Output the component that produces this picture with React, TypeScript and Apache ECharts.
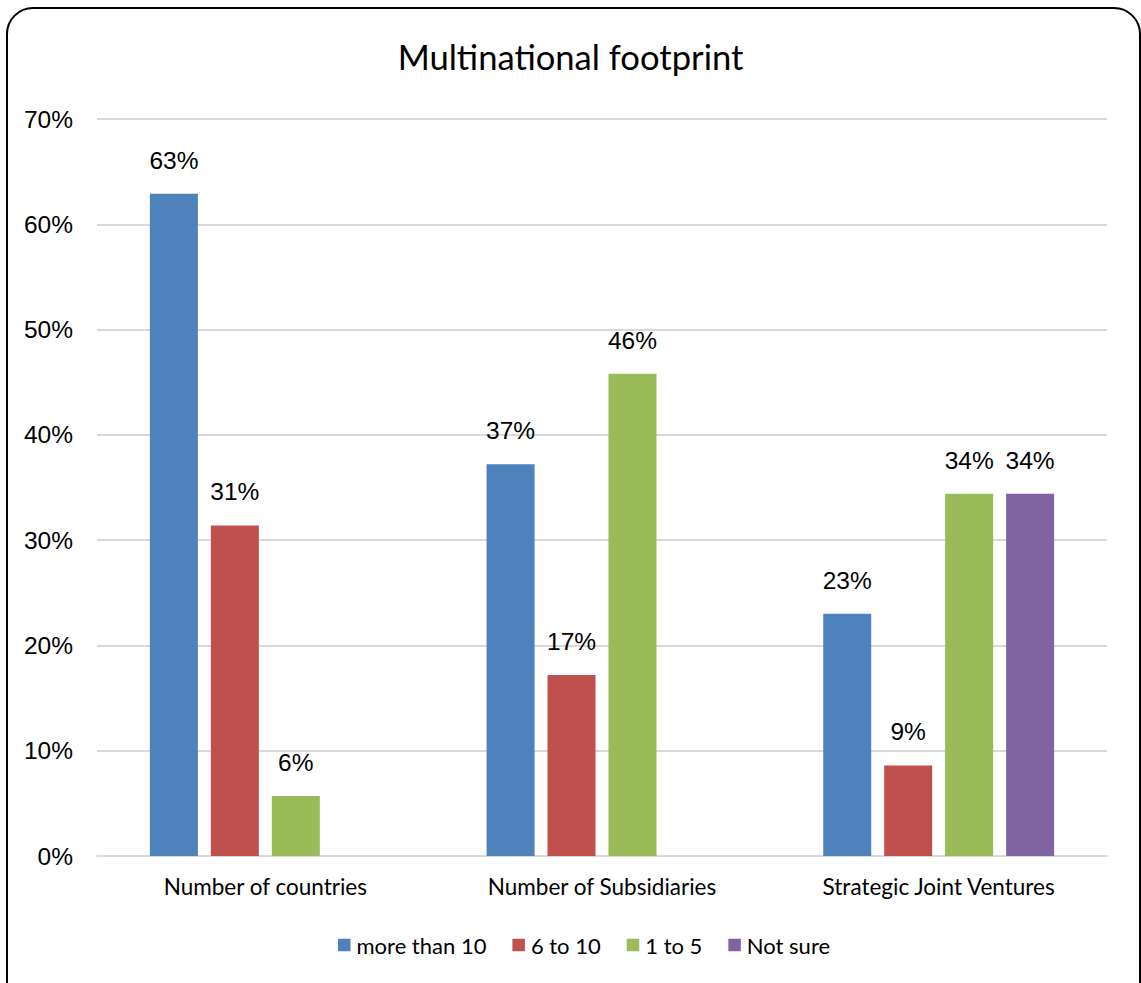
import React, { useEffect, useRef } from "react";
import * as echarts from "echarts";

const categories = ["Number of countries", "Number of Subsidiaries", "Strategic Joint Ventures"];
const seriesNames = ["more than 10", "6 to 10", "1 to 5", "Not sure"];
const moreThan10 = [62.9, 37.2, 23.0];
const sixTo10 = [31.4, 17.2, 8.6];
const oneTo5 = [5.7, 45.8, 34.4];
const notSure = [null, null, 34.4];
const colors = ["#4F81BD", "#C0504D", "#9BBB59", "#8064A2"];
const yTicks = { min: 0, max: 70, interval: 10 };

export default function App() {
  const ref = useRef<HTMLDivElement>(null);
  useEffect(() => {
    document.body.style.margin = "0";
    const chart = echarts.init(ref.current!, null, { renderer: "svg" });
    const data = [moreThan10, sixTo10, oneTo5, notSure];
    chart.setOption({
      animation: false,
      backgroundColor: "#fff",
      title: {
        text: "Multinational footprint",
        left: "center",
        top: 34,
        textStyle: { fontFamily: "Lato", fontSize: 34.6, fontWeight: "normal", color: "#000" },
      },
      graphic: [
        {
          type: "rect",
          shape: { x: 7, y: 8, width: 1133, height: 1020, r: 26 },
          style: { fill: "none", stroke: "#000", lineWidth: 2 },
          z: 100,
        },
      ],
      legend: {
        top: 929,
        left: 333,
        itemWidth: 12.5,
        itemHeight: 12.5,
        itemGap: 26,
        icon: "rect",
        textStyle: { fontFamily: "Lato", fontSize: 22, color: "#000", padding: [0, 0, 0, 1] },
        data: seriesNames,
      },
      grid: { left: 97, right: 34, top: 119, bottom: 127, containLabel: false },
      xAxis: {
        type: "category",
        data: categories,
        axisLine: { lineStyle: { color: "#d9d9d9", width: 2 } },
        axisTick: { show: false },
        axisLabel: { fontFamily: "Lato", fontSize: 22.5, color: "#000", margin: 19 },
      },
      yAxis: {
        type: "value",
        min: yTicks.min,
        max: yTicks.max,
        interval: yTicks.interval,
        axisLine: { show: false },
        axisTick: { show: false },
        splitLine: { lineStyle: { color: "#d9d9d9", width: 2 } },
        axisLabel: {
          fontFamily: "Liberation Sans",
          fontSize: 24.5,
          color: "#000",
          margin: 24,
          formatter: (v: number) => v + "%",
        },
      },
      series: seriesNames.map((name, i) => ({
        name,
        type: "bar",
        data: data[i],
        barWidth: 48,
        barGap: "27%",
        barCategoryGap: "31%",
        itemStyle: { color: colors[i] },
        label: {
          show: true,
          position: "top",
          distance: 21,
          fontFamily: "Liberation Sans",
          fontSize: 24.5,
          color: "#000",
          formatter: (p: any) => Math.round(p.value) + "%",
        },
      })),
    });
    return () => chart.dispose();
  }, []);
  return <div ref={ref} style={{ width: 1141, height: 983 }} />;
}
